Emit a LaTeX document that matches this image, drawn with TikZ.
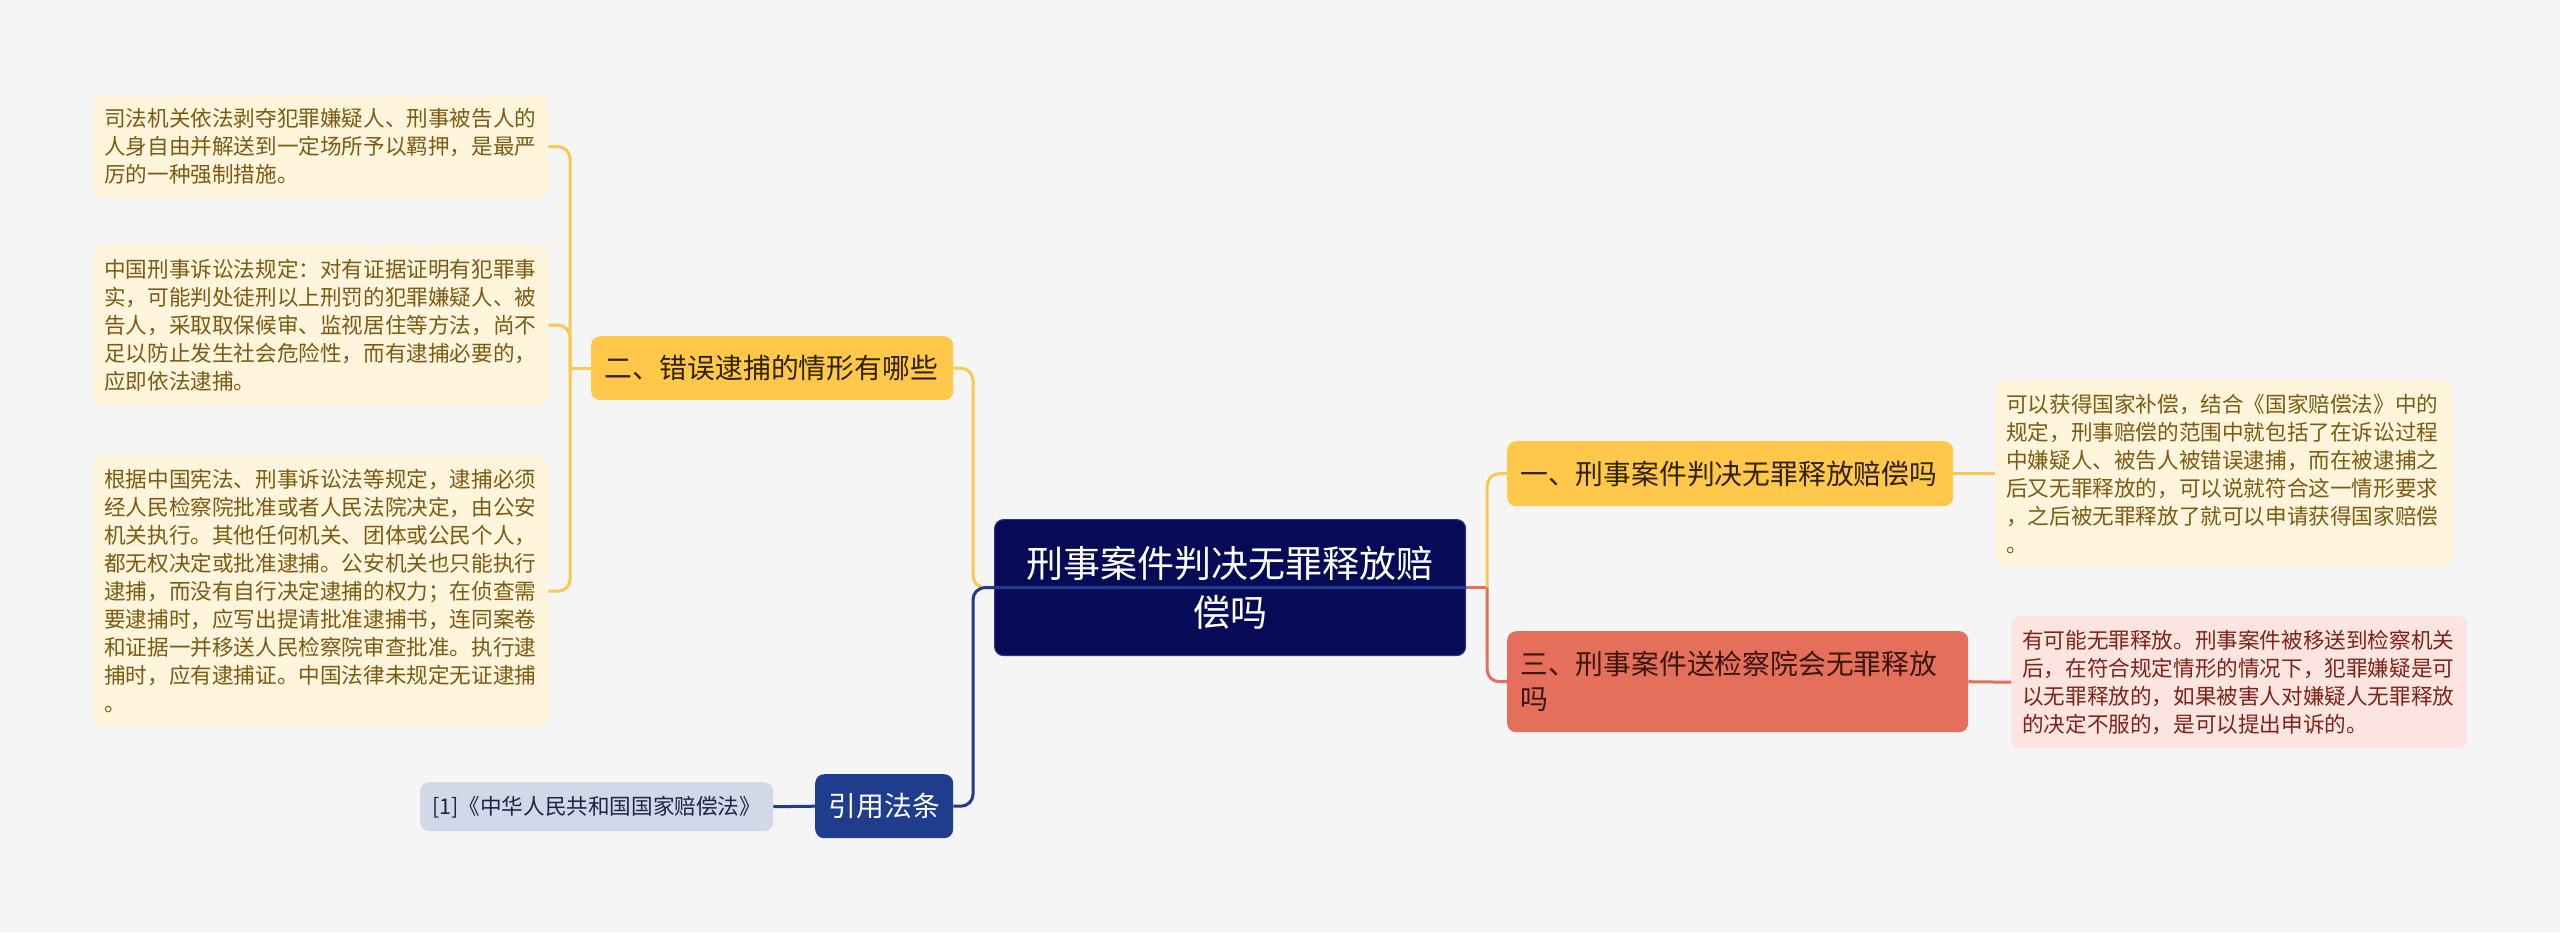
\documentclass[tikz,border=0pt]{standalone}
\usepackage{fontspec}
\setmainfont{Noto Sans CJK SC}
\definecolor{bgc}{HTML}{F5F5F5}
\definecolor{navy}{HTML}{070B57}
\definecolor{navyedge}{HTML}{2B3A80}
\definecolor{yelB}{HTML}{FFC84B}
\definecolor{yelT}{HTML}{2E2200}
\definecolor{yelL}{HTML}{FFF4DC}
\definecolor{yelLT}{HTML}{7B5B12}
\definecolor{yelLine}{HTML}{F8C850}
\definecolor{redB}{HTML}{E4705B}
\definecolor{redT}{HTML}{3B140C}
\definecolor{redL}{HTML}{FCE4E0}
\definecolor{redLT}{HTML}{7D2318}
\definecolor{redLine}{HTML}{E36F58}
\definecolor{bluB}{HTML}{1F3D8C}
\definecolor{bluL}{HTML}{D1D8E8}
\definecolor{bluLT}{HTML}{1B2447}
\begin{document}
\begin{tikzpicture}[x=1pt,y=-1pt,
  base/.style={rounded corners=9pt, inner ysep=0pt, anchor=north west, align=left},
  leafY/.style={base, fill=yelL, text=yelLT, inner xsep=11pt, font=\fontsize{21.6pt}{28pt}\selectfont},
  leafR/.style={base, fill=redL, text=redLT, inner xsep=11pt, font=\fontsize{21.6pt}{28pt}\selectfont},
  leafB/.style={base, fill=bluL, text=bluLT, inner xsep=10pt, align=center, font=\fontsize{21.6pt}{28pt}\selectfont},
  branchY/.style={base, fill=yelB, text=yelT, inner xsep=13pt, font=\fontsize{27.8pt}{35pt}\selectfont},
  branchR/.style={base, fill=redB, text=redT, inner xsep=13pt, font=\fontsize{27.8pt}{35pt}\selectfont},
  branchB/.style={base, fill=bluB, text=white, inner xsep=13pt, align=center, font=\fontsize{27.8pt}{35pt}\selectfont},
  rootbox/.style={base, fill=navy, draw=navyedge, line width=1.2pt, text=white, inner xsep=10pt, align=center, font=\fontsize{37pt}{49pt}\selectfont},
  lineY/.style={draw=yelLine, line width=3pt},
  lineR/.style={draw=redLine, line width=3pt},
  lineB/.style={draw=bluB, line width=3pt},
  ]
\fill[bgc] (0,0) rectangle (2560,932);
\useasboundingbox (0,0) rectangle (2560,932);

% left leaves
\node[leafY, text width=433pt, minimum height=103pt] (l1) at (93,95) {司法机关依法剥夺犯罪嫌疑人、刑事被告人的\\
人身自由并解送到一定场所予以羁押，是最严\\
厉的一种强制措施。};
\node[leafY, text width=433pt, minimum height=160pt] (l2) at (93,245) {中国刑事诉讼法规定：对有证据证明有犯罪事\\
实，可能判处徒刑以上刑罚的犯罪嫌疑人、被\\
告人，采取取保候审、监视居住等方法，尚不\\
足以防止发生社会危险性，而有逮捕必要的，\\
应即依法逮捕。};
\node[leafY, text width=433pt, minimum height=272pt] (l3) at (93,455) {根据中国宪法、刑事诉讼法等规定，逮捕必须\\
经人民检察院批准或者人民法院决定，由公安\\
机关执行。其他任何机关、团体或公民个人，\\
都无权决定或批准逮捕。公安机关也只能执行\\
逮捕，而没有自行决定逮捕的权力；在侦查需\\
要逮捕时，应写出提请批准逮捕书，连同案卷\\
和证据一并移送人民检察院审查批准。执行逮\\
捕时，应有逮捕证。中国法律未规定无证逮捕\\
。};

% branches
\node[branchY, text width=336pt, minimum height=64pt] (b2) at (591,336) {二、错误逮捕的情形有哪些};
\node[rootbox, text width=451pt, minimum height=136pt] (c) at (994,519) {刑事案件判决无罪释放赔\\偿吗};
\node[branchB, text width=112pt, minimum height=64pt] (cite) at (815,774) {引用法条};
\node[leafB, text width=333pt, minimum height=49pt] (ref) at (420,782) {[1]《中华人民共和国国家赔偿法》};
\node[branchY, text width=420pt, minimum height=65pt] (b1) at (1507,441) {一、刑事案件判决无罪释放赔偿吗};
\node[branchR, text width=435pt, minimum height=101pt] (b3) at (1507,631) {三、刑事案件送检察院会无罪释放\\吗};

% right leaves
\node[leafY, text width=435pt, minimum height=187pt] (r1) at (1995,380) {可以获得国家补偿，结合《国家赔偿法》中的\\
规定，刑事赔偿的范围中就包括了在诉讼过程\\
中嫌疑人、被告人被错误逮捕，而在被逮捕之\\
后又无罪释放的，可以说就符合这一情形要求\\
，之后被无罪释放了就可以申请获得国家赔偿\\
。};
\node[leafR, text width=434pt, minimum height=132pt] (r2) at (2011,616) {有可能无罪释放。刑事案件被移送到检察机关\\
后，在符合规定情形的情况下，犯罪嫌疑是可\\
以无罪释放的，如果被害人对嫌疑人无罪释放\\
的决定不服的，是可以提出申诉的。};

% junctions
\coordinate (jL) at ([xshift=-21pt]b2.west);
\coordinate (jC) at ([xshift=-21pt]c.west);
\coordinate (jR) at ([xshift=21pt]c.east);

% connectors
\draw[lineY] (b2.west) -- (jL);
\foreach \n in {l1,l2,l3} \draw[lineY, rounded corners=12pt] (jL) |- (\n.east);
\draw[lineY, rounded corners=12pt] (b2.east) -| (jC) -- (c.west);
\draw[lineR] (c.east) -- (jR);
\draw[lineY, rounded corners=12pt] (jR) |- (b1.west);
\draw[lineR, rounded corners=12pt] (jR) |- (b3.west);
\draw[lineB, rounded corners=12pt] (c.east) -- (jC) |- (cite.east);
\draw[lineY] (b1.east) -- (r1.west);
\draw[lineR] (b3.east) -- (r2.west);
\draw[lineB] (cite.west) -- (ref.east);
\end{tikzpicture}
\end{document}
